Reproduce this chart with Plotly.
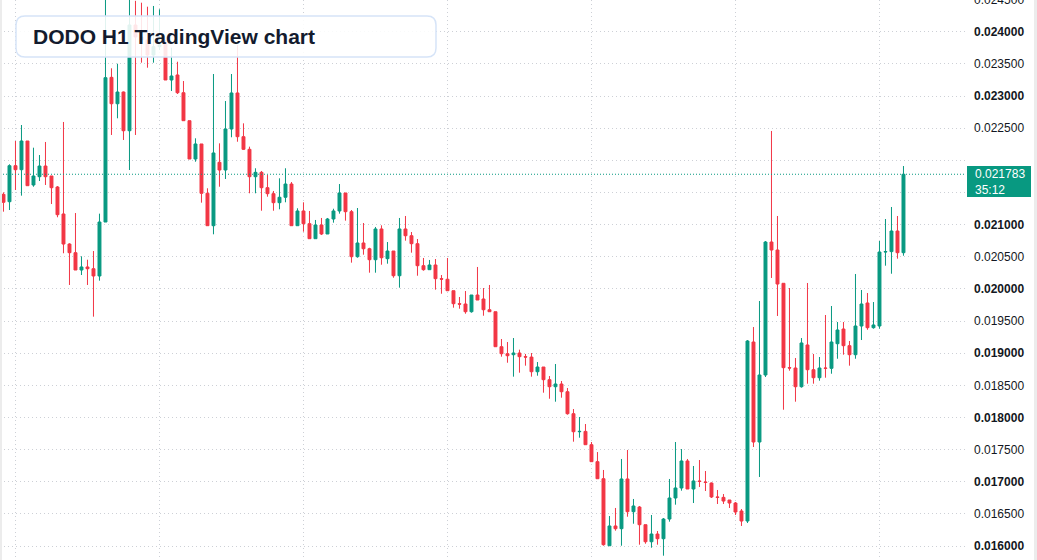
import plotly.graph_objects as go

# ---------------- data (DODO/USDT, H1) ----------------
open_ = [0.021471, 0.021356, 0.021916, 0.021854, 0.022300, 0.021616, 0.021745, 0.021911, 0.021756, 0.021585,
         0.021165, 0.020698, 0.020563, 0.020294, 0.020341, 0.020314, 0.020201, 0.021040, 0.023290, 0.022880,
         0.023062, 0.022460, 0.024104, 0.023918, 0.023871, 0.023638, 0.023767, 0.023824, 0.023249, 0.023327,
         0.023051, 0.022616, 0.022020, 0.022254, 0.021487, 0.020983, 0.021969, 0.021849, 0.022487, 0.023047,
         0.022367, 0.022171, 0.021745, 0.021813, 0.021574, 0.021481, 0.021341, 0.021425, 0.021631, 0.020983,
         0.021212, 0.021014, 0.020781, 0.020994, 0.020854, 0.021087, 0.021212, 0.021492, 0.021201, 0.020501,
         0.020714, 0.020625, 0.020454, 0.020932, 0.020470, 0.020589, 0.020205, 0.020932, 0.020827, 0.020703,
         0.020361, 0.020299, 0.020372, 0.020159, 0.020150, 0.019972, 0.019770, 0.019765, 0.019645, 0.019905,
         0.019843, 0.019676, 0.019645, 0.019101, 0.018992, 0.018977, 0.019003, 0.018946, 0.018940, 0.018712,
         0.018785, 0.018588, 0.018479, 0.018521, 0.018401, 0.018059, 0.017779, 0.017784, 0.017577, 0.017313,
         0.017048, 0.016006, 0.016313, 0.016271, 0.017044, 0.016535, 0.016608, 0.016333, 0.016068, 0.016188,
         0.016115, 0.016421, 0.016748, 0.016904, 0.017324, 0.016888, 0.017013, 0.016997, 0.016981, 0.016764,
         0.016758, 0.016717, 0.016670, 0.016546, 0.016390, 0.019174, 0.017619, 0.018661, 0.020729, 0.020605,
         0.020087, 0.018775, 0.018770, 0.018479, 0.019128, 0.018743, 0.018619, 0.018770, 0.018765, 0.019148,
         0.019376, 0.019117, 0.018977, 0.019423, 0.019781, 0.019397, 0.019423, 0.020574, 0.020580, 0.020900,
         0.020563]
high = [0.021502, 0.021938, 0.022300, 0.022549, 0.022300, 0.022196, 0.022082, 0.022285, 0.021756, 0.021600,
        0.022596, 0.020710, 0.021180, 0.020507, 0.020454, 0.020589, 0.021170, 0.024540, 0.023431, 0.023502,
        0.023070, 0.024560, 0.024480, 0.024451, 0.024389, 0.024400, 0.024348, 0.023871, 0.023751, 0.023533,
        0.023233, 0.022616, 0.022342, 0.022254, 0.021565, 0.023342, 0.022264, 0.022922, 0.023342, 0.023793,
        0.022575, 0.022212, 0.021876, 0.021834, 0.021771, 0.021523, 0.021720, 0.021876, 0.021662, 0.021254,
        0.021347, 0.021212, 0.021072, 0.021103, 0.021103, 0.021247, 0.021631, 0.021492, 0.021227, 0.021258,
        0.021025, 0.020640, 0.020963, 0.020989, 0.020729, 0.020589, 0.021103, 0.021134, 0.020885, 0.020776,
        0.020481, 0.020450, 0.020465, 0.020216, 0.020481, 0.019972, 0.019874, 0.019967, 0.019905, 0.020341,
        0.020014, 0.020061, 0.019645, 0.019221, 0.019174, 0.019236, 0.019055, 0.018988, 0.019003, 0.018863,
        0.018785, 0.018645, 0.018832, 0.018568, 0.018459, 0.018132, 0.018008, 0.017899, 0.017619, 0.017463,
        0.017184, 0.016468, 0.016593, 0.017355, 0.017495, 0.016733, 0.016624, 0.016333, 0.016484, 0.016235,
        0.016437, 0.017044, 0.017619, 0.017510, 0.017355, 0.017246, 0.017339, 0.017168, 0.016990, 0.016873,
        0.016810, 0.016717, 0.016686, 0.016577, 0.019205, 0.019407, 0.019812, 0.020745, 0.022456, 0.021134,
        0.020087, 0.020014, 0.018925, 0.019236, 0.020092, 0.018988, 0.018941, 0.019594, 0.019734, 0.019485,
        0.019485, 0.019190, 0.020232, 0.019983, 0.019936, 0.019796, 0.020745, 0.021087, 0.021274, 0.021134,
        0.021911]
low = [0.021201, 0.021227, 0.021538, 0.021450, 0.021605, 0.021589, 0.021678, 0.021616, 0.021320, 0.021114,
       0.020554, 0.020061, 0.020294, 0.020216, 0.020061, 0.019568, 0.020128, 0.021040, 0.022394, 0.022653,
       0.022316, 0.021849, 0.022394, 0.023518, 0.023440, 0.023518, 0.023715, 0.023249, 0.023078, 0.023031,
       0.022616, 0.022020, 0.021978, 0.021341, 0.020983, 0.020849, 0.021589, 0.021709, 0.022358, 0.022289,
       0.022160, 0.021487, 0.021487, 0.021216, 0.021434, 0.021216, 0.021238, 0.021347, 0.020983, 0.020983,
       0.020890, 0.020781, 0.020781, 0.020838, 0.020854, 0.021030, 0.021170, 0.021061, 0.020408, 0.020485,
       0.020532, 0.020252, 0.020252, 0.020376, 0.020392, 0.020174, 0.020019, 0.020750, 0.020563, 0.020205,
       0.020283, 0.020299, 0.019988, 0.019925, 0.019972, 0.019708, 0.019692, 0.019614, 0.019630, 0.019827,
       0.019583, 0.019645, 0.019101, 0.018946, 0.018852, 0.018635, 0.018697, 0.018806, 0.018635, 0.018650,
       0.018386, 0.018292, 0.018246, 0.018308, 0.018044, 0.017624, 0.017686, 0.017577, 0.017313, 0.017048,
       0.016006, 0.016006, 0.016240, 0.016006, 0.016457, 0.016348, 0.016022, 0.016037, 0.015975, 0.016022,
       0.015851, 0.016380, 0.016644, 0.016862, 0.016888, 0.016670, 0.016919, 0.016857, 0.016748, 0.016655,
       0.016655, 0.016593, 0.016484, 0.016313, 0.016359, 0.017541, 0.017075, 0.018630, 0.020170, 0.019579,
       0.018121, 0.018728, 0.018246, 0.018464, 0.018526, 0.018526, 0.018572, 0.018619, 0.018681, 0.018914,
       0.018977, 0.018806, 0.018914, 0.019205, 0.019365, 0.019381, 0.019381, 0.020361, 0.020236, 0.020470,
       0.020516]
close = [0.021347, 0.021916, 0.021854, 0.022300, 0.021605, 0.021756, 0.021911, 0.021745, 0.021574, 0.021154,
         0.020698, 0.020563, 0.020294, 0.020341, 0.020314, 0.020201, 0.021040, 0.023285, 0.022880, 0.023062,
         0.022460, 0.024104, 0.023918, 0.023871, 0.023638, 0.023767, 0.023793, 0.023249, 0.023311, 0.023051,
         0.022616, 0.022020, 0.022254, 0.021487, 0.020983, 0.022114, 0.021849, 0.022487, 0.023047, 0.022367,
         0.022171, 0.021745, 0.021813, 0.021574, 0.021481, 0.021341, 0.021425, 0.021631, 0.020983, 0.021212,
         0.021014, 0.020781, 0.020994, 0.020854, 0.021087, 0.021212, 0.021492, 0.021201, 0.020501, 0.020714,
         0.020625, 0.020454, 0.020932, 0.020485, 0.020589, 0.020205, 0.020932, 0.020827, 0.020703, 0.020361,
         0.020299, 0.020372, 0.020159, 0.020152, 0.019972, 0.019770, 0.019763, 0.019645, 0.019905, 0.019827,
         0.019676, 0.019645, 0.019101, 0.018992, 0.018961, 0.019003, 0.018946, 0.018940, 0.018712, 0.018785,
         0.018588, 0.018479, 0.018521, 0.018401, 0.018059, 0.017779, 0.017784, 0.017577, 0.017313, 0.017048,
         0.016022, 0.016313, 0.016271, 0.017044, 0.016535, 0.016624, 0.016333, 0.016068, 0.016188, 0.016115,
         0.016421, 0.016748, 0.016904, 0.017324, 0.016888, 0.017013, 0.017005, 0.016990, 0.016764, 0.016758,
         0.016701, 0.016670, 0.016530, 0.016390, 0.019190, 0.017619, 0.018661, 0.020729, 0.020605, 0.020076,
         0.018775, 0.018770, 0.018479, 0.019159, 0.018743, 0.018619, 0.018770, 0.018765, 0.019174, 0.019361,
         0.019117, 0.018977, 0.019423, 0.019765, 0.019397, 0.019439, 0.020574, 0.020580, 0.020900, 0.020563,
         0.021783]

last_price = 0.021783
countdown = "35:12"
title_text = "DODO H1 TradingView chart"
y_ticks = [0.0160, 0.0165, 0.0170, 0.0175, 0.0180, 0.0185, 0.0190, 0.0195, 0.0200,
           0.0205, 0.0210, 0.0215, 0.0220, 0.0225, 0.0230, 0.0235, 0.0240]
top_tick = 0.0245            # partially visible label at the very top
day_starts = [2, 26, 50, 74, 98, 122, 146]   # candle index of each session start (00:00)

# ---------------- styling ----------------
UP = "#089981"
DOWN = "#F23645"
TXT = "#131722"
GRID = "#cdd0d6"
FONT = "Liberation Sans, Arial, sans-serif"

W, H = 1037, 560
R_MARGIN = 72
PW = W - R_MARGIN           # plot width in px
Y_RANGE = [0.015784, 0.024493]

x = list(range(len(close)))

fig = go.Figure()
fig.add_trace(go.Candlestick(
    x=x, open=open_, high=high, low=low, close=close,
    increasing=dict(line=dict(color=UP, width=1), fillcolor=UP),
    decreasing=dict(line=dict(color=DOWN, width=1), fillcolor=DOWN),
    whiskerwidth=0,
    showlegend=False,
    hoverinfo="skip",
))


def fmt_tick(v):
    s = f"{v:.6f}"
    if abs(v * 1000 - round(v * 1000)) < 1e-9:
        return f"<b>{s}</b>"
    return s


ticktext = []
for v in y_ticks:
    # the label next to the last-price badge is hidden by the badge
    if abs(v - last_price) < 0.0003:
        ticktext.append("")
    else:
        ticktext.append(fmt_tick(v))

fig.update_layout(
    width=W, height=H,
    margin=dict(l=0, r=R_MARGIN, t=0, b=0),
    paper_bgcolor="white", plot_bgcolor="white",
    font=dict(family=FONT, size=12, color=TXT),
    xaxis=dict(
        range=[-0.58, -0.58 + PW / 6.0],
        rangeslider=dict(visible=False),
        showticklabels=False, ticks="",
        tickvals=[d - 0.08 for d in day_starts],
        showgrid=True, gridcolor=GRID, griddash="1px,3px", gridwidth=1,
        zeroline=False, showline=False,
    ),
    yaxis=dict(
        side="right",
        range=Y_RANGE,
        tickvals=y_ticks, ticktext=ticktext,
        showgrid=True, gridcolor=GRID, griddash="1px,3px", gridwidth=1,
        zeroline=False, showline=False, ticks="",
        ticklabelstandoff=8,
        tickfont=dict(size=12, color=TXT),
    ),
    showlegend=False,
)

# partially visible top label (just above the visible range)
top_paper = (top_tick - Y_RANGE[0]) / (Y_RANGE[1] - Y_RANGE[0])
fig.add_annotation(xref="paper", yref="paper", x=1, y=top_paper, xanchor="left", yanchor="middle",
                   xshift=7, text=fmt_tick(top_tick), showarrow=False,
                   font=dict(size=12, color=TXT, family=FONT))

# last price dotted line
fig.add_shape(type="line", xref="paper", yref="y", x0=0, x1=1,
              y0=last_price, y1=last_price,
              line=dict(color=UP, width=1, dash="1px,2px"), layer="above")


def px2paper(px, py):
    return px / PW, 1 - py / H


# last price badge on the axis
bx0, by0 = px2paper(967, 166)
bx1, by1 = px2paper(1031, 197)
fig.add_shape(type="rect", xref="paper", yref="paper", x0=bx0, x1=bx1, y0=by1, y1=by0,
              fillcolor=UP, line=dict(width=0), layer="above")
tx, ty = px2paper(973, 181.5)
fig.add_annotation(
    xref="paper", yref="paper", x=tx, y=ty,
    xanchor="left", yanchor="middle",
    text=f"{last_price:.6f}<br>{countdown}",
    align="left", showarrow=False,
    font=dict(color="white", size=12, family=FONT),
)


def P(px, py):
    a, b = px2paper(px, py)
    return f"{a:.5f},{b:.5f}"


# title box (rounded rectangle, semi-transparent)
x0, y0, x1, y1, r = 16, 16, 436, 57, 9
path = (f"M {P(x0 + r, y0)} L {P(x1 - r, y0)} Q {P(x1, y0)} {P(x1, y0 + r)} "
        f"L {P(x1, y1 - r)} Q {P(x1, y1)} {P(x1 - r, y1)} "
        f"L {P(x0 + r, y1)} Q {P(x0, y1)} {P(x0, y1 - r)} "
        f"L {P(x0, y0 + r)} Q {P(x0, y0)} {P(x0 + r, y0)} Z")
fig.add_shape(type="path", xref="paper", yref="paper", path=path,
              fillcolor="rgba(255,255,255,0.88)",
              line=dict(color="#d6e4f8", width=1.5), layer="above")

ax, ay = px2paper(30.5, 37)
fig.add_annotation(xref="paper", yref="paper", x=ax, y=ay, xanchor="left", yanchor="middle",
                   text=f"<b>{title_text}</b>", showarrow=False,
                   font=dict(size=21, color="#131b2e", family=FONT))

# thin page borders at left/right
fig.add_shape(type="rect", xref="paper", yref="paper", x0=0, x1=2 / PW, y0=0, y1=1,
              fillcolor="#ececec", line=dict(width=0), layer="above")
fig.add_shape(type="rect", xref="paper", yref="paper", x0=1034 / PW, x1=W / PW, y0=0, y1=1,
              fillcolor="#ececec", line=dict(width=0), layer="above")

fig.write_html("out.html")
